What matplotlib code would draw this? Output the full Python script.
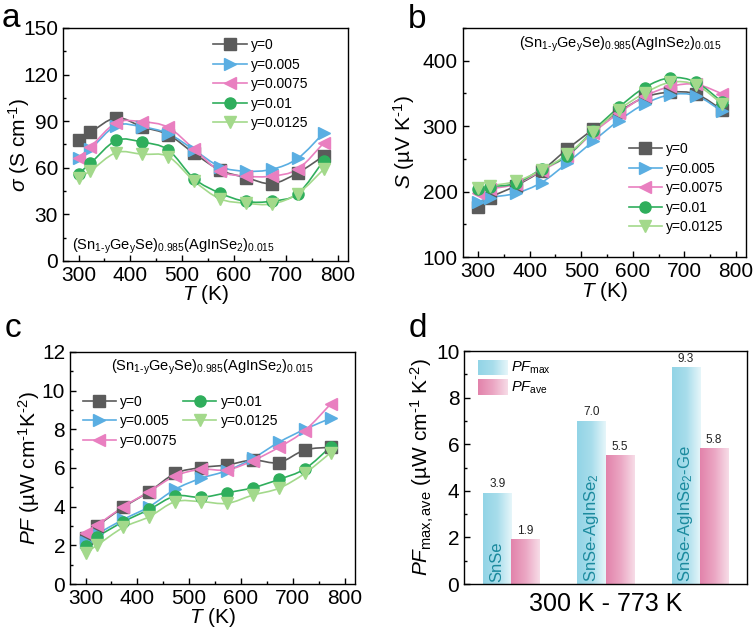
import matplotlib
matplotlib.use("Agg")
import matplotlib.pyplot as plt
import numpy as np
from matplotlib.lines import Line2D
from matplotlib.patches import PathPatch
from matplotlib.path import Path
from matplotlib.ticker import MultipleLocator

plt.rcParams["font.family"] = ["Liberation Sans", "DejaVu Sans"]
plt.rcParams["mathtext.fontset"] = "custom"
plt.rcParams["mathtext.rm"] = "Liberation Sans"
plt.rcParams["mathtext.it"] = "Liberation Sans:italic"
plt.rcParams["mathtext.bf"] = "Liberation Sans:bold"

# ---- data -------------------------------------------------------------
temps = [300, 323, 373, 423, 473, 523, 573, 623, 673, 723, 773]
labels = ["y=0", "y=0.005", "y=0.0075", "y=0.01", "y=0.0125"]

sigma = {
    "y=0": [78, 82.8, 92.2, 86.3, 81.3, 69.3, 58.5, 53.7, 49.8, 56.7, 67.6],
    "y=0.005": [66.5, 72, 87.2, 86.3, 82, 71.5, 60.7, 57.8, 59, 66, 82.4],
    "y=0.0075": [66.5, 73.3, 89, 89.6, 86, 72, 57.8, 54.6, 54.6, 59.1, 75.9],
    "y=0.01": [56.3, 62.8, 77.6, 76.5, 71.5, 53, 43.7, 38.3, 38.5, 43.3, 64.6],
    "y=0.0125": [53.7, 58, 69.8, 68.7, 67.2, 51.5, 40, 37.2, 36.7, 43.3, 59],
}
seebeck = {
    "y=0": [176, 191, 209, 232, 265, 295, 322, 344, 352, 349, 325],
    "y=0.005": [184, 191, 197.5, 214, 244, 277, 308.6, 334, 348, 346.5, 322.7],
    "y=0.0075": [197.5, 204, 211.6, 232, 254.5, 290, 320, 345.5, 360.6, 364, 349.5],
    "y=0.01": [204, 207.6, 212.6, 234.3, 254.5, 293.4, 328.8, 359, 374, 367, 337],
    "y=0.0125": [205, 209, 215.7, 233, 257, 291.4, 325, 350.5, 367, 363, 334],
}
pf = {
    "y=0": [2.36, 3.0, 3.97, 4.78, 5.72, 6.02, 6.16, 6.41, 6.28, 6.93, 7.07],
    "y=0.005": [2.19, 2.59, 3.34, 4.0, 4.9, 5.47, 5.86, 6.5, 7.33, 8.0, 8.57],
    "y=0.0075": [2.62, 3.05, 4.0, 4.78, 5.59, 5.93, 5.9, 6.38, 7.07, 7.93, 9.31],
    "y=0.01": [1.97, 2.45, 3.22, 3.86, 4.55, 4.48, 4.72, 4.98, 5.41, 5.95, 7.1],
    "y=0.0125": [1.62, 2.02, 2.93, 3.48, 4.26, 4.26, 4.17, 4.6, 4.95, 5.72, 6.79],
}

samples = ["SnSe", "SnSe-AgInSe$_2$", "SnSe-AgInSe$_2$-Ge"]
pf_max = [3.9, 7.0, 9.3]
pf_ave = [1.9, 5.5, 5.8]

# ---- styles -----------------------------------------------------------
colors = {
    "y=0": "#5b5b5b",
    "y=0.005": "#5aaee2",
    "y=0.0075": "#e97fc0",
    "y=0.01": "#2fae5c",
    "y=0.0125": "#a3d98b",
}
markers = {"y=0": "s", "y=0.005": ">", "y=0.0075": "<", "y=0.01": "o", "y=0.0125": "v"}
formula = (r"(Sn$_{1\text{-y}}$Ge$_{\text{y}}$Se)$_{0.985}$"
           r"(AgInSe$_2$)$_{0.015}$")
TICK = 15
LABEL = 15


def smooth_path(x, y):
    # Catmull-Rom curve through the points, drawn as bezier segments
    pts = np.column_stack([x, y]).astype(float)
    ext = np.vstack([pts[0], pts, pts[-1]])
    verts = [pts[0]]
    codes = [Path.MOVETO]
    for i in range(1, len(ext) - 2):
        p0, p1, p2, p3 = ext[i - 1], ext[i], ext[i + 1], ext[i + 2]
        verts += [p1 + (p2 - p0) / 6, p2 - (p3 - p1) / 6, p2]
        codes += [Path.CURVE4] * 3
    return Path(verts, codes)


def style_axes(ax):
    ax.tick_params(which="both", direction="in", labelsize=TICK, width=1)
    ax.tick_params(which="major", length=4)
    ax.tick_params(which="minor", length=2)
    for s in ax.spines.values():
        s.set_linewidth(1)


def line_panel(ax, data):
    handles = []
    for lab in labels:
        c = colors[lab]
        ax.add_patch(PathPatch(smooth_path(temps, data[lab]), fill=False,
                               edgecolor=c, lw=1.2, zorder=2))
        ax.plot(temps, data[lab], ls="none", marker=markers[lab], ms=8,
                color=c, mec=c, zorder=3)
        handles.append(Line2D([], [], color=c, lw=1.2, marker=markers[lab],
                              ms=8, mec=c, label=lab))
    ax.set_xlim(270, 820)
    ax.xaxis.set_major_locator(MultipleLocator(100))
    ax.xaxis.set_minor_locator(MultipleLocator(50))
    ax.set_xlabel("$T$ (K)", fontsize=LABEL, labelpad=-1)
    style_axes(ax)
    return handles


def gradient(ax, cmap, x0, x1, y0, y1, **kw):
    # left-to-right colour fade, first colour on the left
    rgb = cmap(np.linspace(0, 1, 64))[np.newaxis, :, :3]
    ax.imshow(rgb, aspect="auto", extent=[x0, x1, y0, y1], zorder=1, **kw)


fig = plt.figure(figsize=(7.56, 6.35), dpi=100)

# ---- a ----------------------------------------------------------------
ax = fig.add_axes([0.0833, 0.589, 0.377, 0.367])
h = line_panel(ax, sigma)
ax.set_ylim(0, 150)
ax.yaxis.set_major_locator(MultipleLocator(30))
ax.yaxis.set_minor_locator(MultipleLocator(15))
ax.set_ylabel(r"$\sigma$ (S cm$^{\text{-1}}$)", fontsize=LABEL)
ax.yaxis.set_label_coords(-0.11, 0.5)
ax.legend(handles=h, loc="upper right", bbox_to_anchor=(0.905, 1.01),
          frameon=False, fontsize=10, handlelength=2.4, labelspacing=0.4,
          handletextpad=0.3)
ax.text(0.03, 0.05, formula, transform=ax.transAxes, fontsize=10.5)

# ---- b ----------------------------------------------------------------
ax = fig.add_axes([0.612, 0.595, 0.375, 0.361])
h = line_panel(ax, seebeck)
ax.set_ylim(100, 450)
ax.set_yticks([100, 200, 300, 400])
ax.yaxis.set_minor_locator(MultipleLocator(50))
ax.set_ylabel(r"$S$ (µV K$^{\text{-1}}$)", fontsize=LABEL)
ax.yaxis.set_label_coords(-0.16, 0.5)
ax.legend(handles=h, loc="lower right", bbox_to_anchor=(0.965, 0.045),
          frameon=False, fontsize=10, handlelength=2.4, labelspacing=0.4,
          handletextpad=0.3)
ax.text(0.555, 0.93, formula, transform=ax.transAxes, fontsize=10.5,
        ha="center", va="center")

# ---- c ----------------------------------------------------------------
ax = fig.add_axes([0.0926, 0.0803, 0.377, 0.3654])
h = line_panel(ax, pf)
ax.set_ylim(0, 12)
ax.yaxis.set_major_locator(MultipleLocator(2))
ax.yaxis.set_minor_locator(MultipleLocator(1))
ax.set_ylabel(r"$PF$ (µW cm$^{\text{-1}}$K$^{\text{-2}}$)", fontsize=LABEL)
ax.yaxis.set_label_coords(-0.1, 0.5)
ax.legend(handles=h, loc="upper left", bbox_to_anchor=(0.0, 0.87), ncol=2,
          frameon=False, fontsize=10, handlelength=2.4, labelspacing=0.4,
          handletextpad=0.3, columnspacing=0.4)
ax.text(0.5, 0.935, formula, transform=ax.transAxes, fontsize=10.5,
        ha="center", va="center")

# ---- d ----------------------------------------------------------------
ax = fig.add_axes([0.614, 0.0803, 0.374, 0.3667])
x = np.arange(len(samples))
w = 0.3
cyan_cmap = matplotlib.colors.LinearSegmentedColormap.from_list(
    "cy", ["#92d4e6", "#a8ddeb", "#e6f6fa"])
pink_cmap = matplotlib.colors.LinearSegmentedColormap.from_list(
    "pk", ["#e283ab", "#eba6c3", "#f7dce7"])
bars_max = ax.bar(x - w / 2, pf_max, w, color="none")
bars_ave = ax.bar(x + w / 2, pf_ave, w, color="none")
for bars, cmap in ((bars_max, cyan_cmap), (bars_ave, pink_cmap)):
    for b in bars:
        x0, bw, bh = b.get_x(), b.get_width(), b.get_height()
        gradient(ax, cmap, x0, x0 + bw, 0, bh)
        ax.text(x0 + bw / 2, bh + 0.12, f"{bh:.1f}", ha="center", va="bottom",
                fontsize=8.5, color="#222222")
for b, name in zip(bars_max, samples):
    ax.text(b.get_x() + b.get_width() / 2, 0.08, name, rotation=90,
            ha="center", va="bottom", fontsize=12, color="#1b8a9e")
ax.set_xticks([])
ax.yaxis.set_major_locator(MultipleLocator(2))
ax.yaxis.set_minor_locator(MultipleLocator(1))
ax.set_ylabel(r"$PF_{\mathrm{max,ave}}$ (µW cm$^{\text{-1}}$ K$^{\text{-2}}$)",
              fontsize=LABEL)
ax.yaxis.set_label_coords(-0.1, 0.5)
ax.set_xlabel("300 K - 773 K", fontsize=18, labelpad=6)
style_axes(ax)
# gradient legend
for (y0, y1), cmap, lab in (((0.897, 0.961), cyan_cmap, r"$PF_{\mathrm{max}}$"),
                            ((0.811, 0.876), pink_cmap, r"$PF_{\mathrm{ave}}$")):
    gradient(ax, cmap, 0.05, 0.155, y0, y1, transform=ax.transAxes)
    ax.text(0.165, (y0 + y1) / 2, lab, transform=ax.transAxes, fontsize=10.5,
            va="center")
ax.set_xlim(-0.5, 2.5)
ax.set_ylim(0, 10)

# panel letters
for lx, ly, letter in ((0.002, 0.957, "a"), (0.54, 0.956, "b"),
                       (0.006, 0.469, "c"), (0.54, 0.469, "d")):
    fig.text(lx, ly, letter, fontsize=24, va="baseline")

fig.savefig("out.png", dpi=100)
